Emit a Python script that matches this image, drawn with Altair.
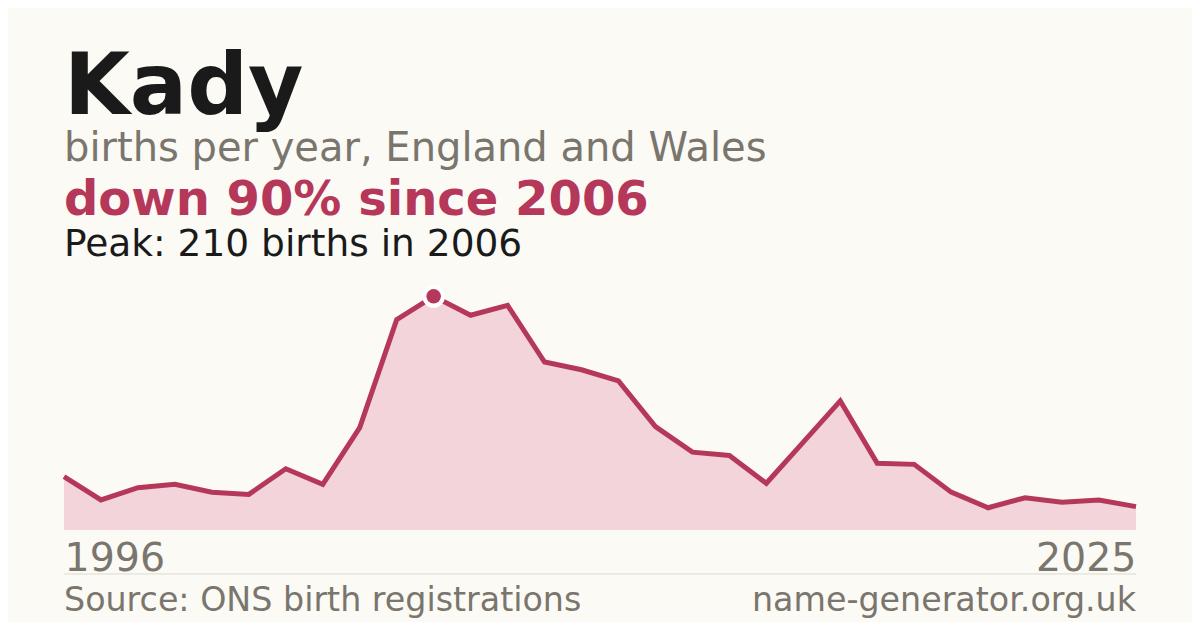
import altair as alt
import pandas as pd

years = list(range(1996, 2026))
births = [48, 27, 38, 41, 34, 32, 55, 41, 92, 189, 210, 193, 202, 151, 144, 134,
          93, 70, 67, 42, 79, 116, 60, 59, 34, 20, 29, 25, 27, 21]

name = "Kady"
subtitle = "births per year, England and Wales"
headline = "down 90% since 2006"
peak_text = "Peak: 210 births in 2006"
source_text = "Source: ONS birth registrations"
site_text = "name-generator.org.uk"

df = pd.DataFrame({"year": years, "births": births})
peak_df = df[df["year"] == 2006]

W, H = 1072, 257
FONT = "DejaVu Sans"
RED = "#b5385a"
GREY = "#7a756d"

x = alt.X("year:Q", scale=alt.Scale(domain=[1996, 2025], nice=False, zero=False),
          axis=alt.Axis(values=[1996, 2025], format="d", labelFlush=True, ticks=False,
                        domain=False, grid=False, title=None, labelFontSize=39.5,
                        labelColor=GREY, labelFont=FONT, labelPadding=9))
y = alt.Y("births:Q", scale=alt.Scale(domain=[0, 231], nice=False), axis=None)

base = alt.Chart(df)
area = base.mark_area(color="#f2d4da", opacity=1).encode(x=x, y=y)
line = base.mark_line(color=RED, strokeWidth=5, strokeJoin="miter").encode(x=x, y=y)
halo = alt.Chart(peak_df).mark_point(filled=True, shape="circle", size=520, color="#ffffff",
                                     opacity=1).encode(x=x, y=y)
peak = alt.Chart(peak_df).mark_point(filled=True, shape="circle", size=210, color=RED,
                                     opacity=1).encode(x=x, y=y)

def txt(text, yv, size, color, weight="normal", xv=0, align="left"):
    return alt.Chart(pd.DataFrame({"t": [text]})).mark_text(
        font=FONT, fontSize=size, color=color, fontWeight=weight, align=align,
        baseline="alphabetic").encode(text="t:N", x=alt.value(xv), y=alt.value(yv))

t1 = txt(name, -159, 85, "#1a1a1a", "bold")
t2 = txt(subtitle, -112, 40, GREY)
t3 = txt(headline, -58, 48, RED, "bold")
t4 = txt(peak_text, -17, 37.5, "#1a1a1a")
t5 = txt(source_text, 338, 33.3, GREY)
t6 = txt(site_text, 338, 33.3, GREY, xv=W, align="right")

rule = alt.Chart(pd.DataFrame({"a": [0]})).mark_rule(color="#dcd9d2", strokeWidth=1).encode(
    x=alt.value(0), x2=alt.value(W), y=alt.value(301))

chart = alt.layer(area, line, halo, peak, rule, t1, t2, t3, t4, t5, t6).properties(
    width=W, height=H,
    padding={"left": 56, "top": 265, "right": 56, "bottom": 92},
    autosize=alt.AutoSizeParams(type="none"),
    background="#fbfaf5",
).configure_view(stroke=None)

chart.save("out.html", embed_options={"renderer": "svg", "actions": False})
